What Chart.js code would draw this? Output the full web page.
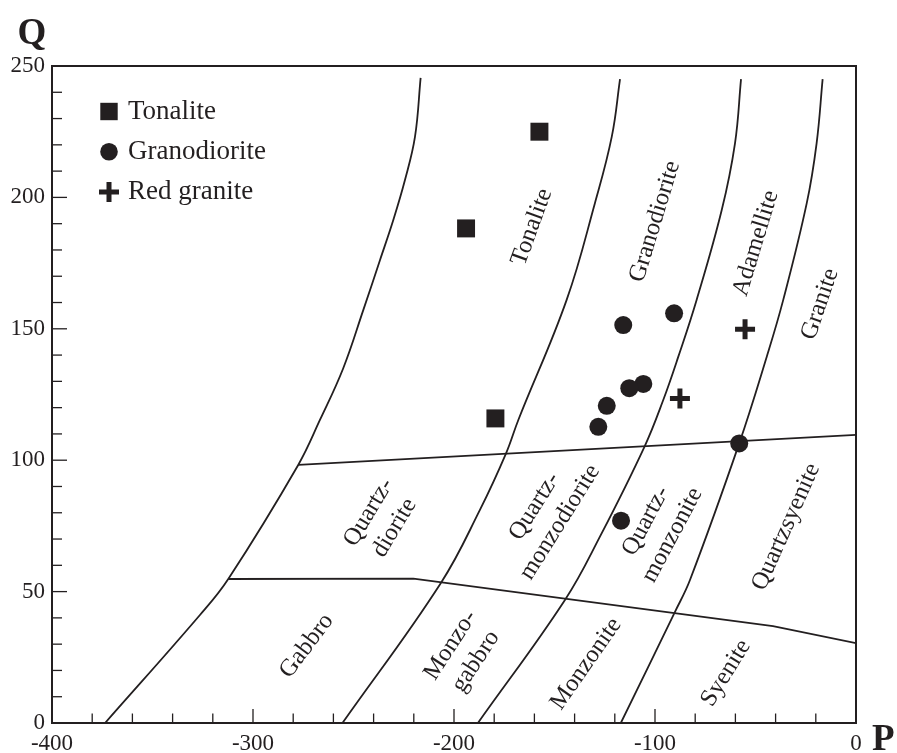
<!DOCTYPE html>
<html>
<head>
<meta charset="utf-8">
<script src="https://cdn.jsdelivr.net/npm/chart.js@4/dist/chart.umd.min.js"></script>
<style>
  body { margin: 0; background: #fff; }
  #wrap { width: 897px; height: 753px; }
</style>
</head>
<body>
<div id="wrap"><canvas id="pq"></canvas></div>
<script>
// ====== Data (P, Q) ======

// boundary curves, left to right
const curve1 = [[-373.6, 0], [-326.4, 41.1], [-312.3, 54.8], [-277.5, 98.2], [-266.7, 115.3], [-255.1, 135.0],
  [-245.1, 157.2], [-236.8, 176.2], [-230.2, 191.4], [-224.4, 206.6], [-219.4, 223.1], [-216.6, 245.5]];
const curve2 = [[-255.5, 0], [-206.6, 53.2], [-187.1, 81.1], [-174.1, 102.6], [-168.0, 115.3], [-144.0, 160.9],
  [-129.9, 197.8], [-121.5, 223.1], [-117.4, 245.0]];
const curve3 = [[-188.1, 0], [-144.8, 46.8], [-127.4, 70.9], [-105.2, 105.2], [-95.9, 122.9], [-88.4, 139.4],
  [-79.3, 161.0], [-66.8, 195.2], [-60.2, 220.6], [-57.2, 245.0]];
const curve4 = [[-117.0, 0], [-90.0, 42.4], [-82.6, 54.4], [-58.1, 106.4], [-44.4, 139.4], [-36.2, 161.0],
  [-24.5, 197.8], [-19.6, 220.6], [-16.6, 245.0]];

// the two cross lines
const upperLine = [[-277.5, 98.2], [0, 109.6]];
const lowerLine = [[-312.3, 54.8], [-220.2, 54.9], [-41.3, 36.9], [0, 30.4]];

// samples
const tonaliteP = [-157.5, -194.0, -179.4];
const tonaliteQ = [225.0, 188.2, 115.9];
const granodioriteP = [-115.8, -90.5, -105.8, -112.8, -124.0, -128.2, -58.1, -116.9];
const granodioriteQ = [151.4, 155.9, 129.0, 127.4, 120.7, 112.7, 106.4, 77.0];
const redGraniteP = [-87.6, -55.2];
const redGraniteQ = [123.5, 149.8];

// axis ticks
const pTicks = [-400, -300, -200, -100, 0];
const qTicks = [0, 50, 100, 150, 200, 250];

// region names, anchored in data units
const regionLabels = [
  { text: ["Tonalite"], p: -161.2, q: 188.7, angle: -70 },
  { text: ["Granodiorite"], p: -100.0, q: 190.8, angle: -73 },
  { text: ["Adamellite"], p: -49.8, q: 182.5, angle: -73 },
  { text: ["Granite"], p: -17.9, q: 159.4, angle: -71 },
  { text: ["Quartz-", "diorite"], p: -236.0, q: 77.2, angle: -59 },
  { text: ["Quartz-", "monzodiorite"], p: -153.6, q: 79.4, angle: -58 },
  { text: ["Quartz-", "monzonite"], p: -97.9, q: 74.2, angle: -62 },
  { text: ["Quartzsyenite"], p: -34.8, q: 74.6, angle: -66 },
  { text: ["Gabbro"], p: -273.3, q: 29.3, angle: -53 },
  { text: ["Monzo-", "gabbro"], p: -195.4, q: 26.5, angle: -57 },
  { text: ["Monzonite"], p: -134.3, q: 22.5, angle: -55 },
  { text: ["Syenite"], p: -64.7, q: 19.0, angle: -58 },
];

const INK = "#231f20";
const SERIF = "'Liberation Serif', 'Times New Roman', serif";

const toXY = (pairs) => pairs.map(([x, y]) => ({ x, y }));
const zipXY = (xs, ys) => xs.map((x, i) => ({ x, y: ys[i] }));

function boundary(pairs, smooth) {
  return {
    label: "",
    data: toXY(pairs),
    showLine: true,
    borderColor: INK,
    borderWidth: 1.8,
    pointRadius: 0,
    pointHoverRadius: 0,
    tension: smooth ? 0.4 : 0,
  };
}

// ====== Plugins ======

// frame + inward ticks + axis letters
const frameAndTicks = {
  id: "frameAndTicks",
  afterDraw(chart) {
    const { ctx, chartArea: a, scales } = chart;
    ctx.save();
    ctx.strokeStyle = INK;
    ctx.lineWidth = 1.3;
    scales.y.ticks.forEach((t) => {
      const y = scales.y.getPixelForValue(t.value);
      const len = t.value % 50 === 0 ? 15 : 10;
      ctx.beginPath();
      ctx.moveTo(a.left, y);
      ctx.lineTo(a.left + len, y);
      ctx.stroke();
    });
    scales.x.ticks.forEach((t) => {
      const x = scales.x.getPixelForValue(t.value);
      const len = t.value % 100 === 0 ? 14 : 9.5;
      ctx.beginPath();
      ctx.moveTo(x, a.bottom);
      ctx.lineTo(x, a.bottom - len);
      ctx.stroke();
    });
    ctx.lineWidth = 2;
    ctx.strokeRect(a.left, a.top, a.right - a.left, a.bottom - a.top);

    ctx.fillStyle = INK;
    ctx.font = "bold 37px " + SERIF;
    ctx.textBaseline = "alphabetic";
    ctx.textAlign = "center";
    ctx.fillText("Q", a.left - 20, a.top - 22);
    ctx.textAlign = "left";
    ctx.fillText("P", a.right + 16, a.bottom + 27);
    ctx.restore();
  },
};

// rotated region names
const regionNames = {
  id: "regionNames",
  afterDatasetsDraw(chart) {
    const { ctx, scales } = chart;
    ctx.save();
    ctx.fillStyle = INK;
    ctx.font = "24.5px " + SERIF;
    ctx.textAlign = "center";
    ctx.textBaseline = "middle";
    regionLabels.forEach((r) => {
      const x = scales.x.getPixelForValue(r.p);
      const y = scales.y.getPixelForValue(r.q);
      ctx.save();
      ctx.translate(x, y);
      ctx.rotate((r.angle * Math.PI) / 180);
      const lh = 30;
      const y0 = -((r.text.length - 1) * lh) / 2;
      r.text.forEach((line, i) => ctx.fillText(line, 0, y0 + i * lh));
      ctx.restore();
    });
    ctx.restore();
  },
};

// legend in the upper-left corner
const cornerLegend = {
  id: "cornerLegend",
  afterDraw(chart) {
    const { ctx, chartArea: a } = chart;
    const items = chart.data.datasets.filter((d) => d.label);
    ctx.save();
    ctx.fillStyle = INK;
    ctx.strokeStyle = INK;
    ctx.font = "27px " + SERIF;
    ctx.textBaseline = "middle";
    ctx.textAlign = "left";
    items.forEach((d, i) => {
      const cx = a.left + 57;
      const cy = a.top + 45.5 + i * 40.3;
      if (d.pointStyle === "rect") {
        ctx.fillRect(cx - 8.7, cy - 8.7, 17.4, 17.4);
      } else if (d.pointStyle === "circle") {
        ctx.beginPath();
        ctx.arc(cx, cy, 8.8, 0, Math.PI * 2);
        ctx.fill();
      } else {
        ctx.lineWidth = 5;
        ctx.beginPath();
        ctx.moveTo(cx - 10, cy);
        ctx.lineTo(cx + 10, cy);
        ctx.moveTo(cx, cy - 10);
        ctx.lineTo(cx, cy + 10);
        ctx.stroke();
      }
      ctx.fillText(d.label, a.left + 76, cy);
    });
    ctx.restore();
  },
};

// ====== Chart ======

Chart.defaults.font.family = SERIF;
Chart.defaults.color = INK;

new Chart(document.getElementById("pq"), {
  type: "scatter",
  data: {
    datasets: [
      boundary(curve1, true),
      boundary(curve2, true),
      boundary(curve3, true),
      boundary(curve4, true),
      boundary(upperLine, false),
      boundary(lowerLine, false),
      {
        label: "Tonalite",
        data: zipXY(tonaliteP, tonaliteQ),
        pointStyle: "rect",
        pointRadius: 12.7,
        backgroundColor: INK,
        borderWidth: 0,
      },
      {
        label: "Granodiorite",
        data: zipXY(granodioriteP, granodioriteQ),
        pointStyle: "circle",
        pointRadius: 9,
        backgroundColor: INK,
        borderWidth: 0,
      },
      {
        label: "Red granite",
        data: zipXY(redGraniteP, redGraniteQ),
        pointStyle: "cross",
        pointRadius: 10,
        borderColor: INK,
        borderWidth: 5,
      },
    ],
  },
  options: {
    responsive: true,
    maintainAspectRatio: false,
    animation: false,
    layout: { padding: { top: 66, right: 41, left: 0, bottom: 0 } },
    plugins: { legend: { display: false }, tooltip: { enabled: false } },
    scales: {
      x: {
        type: "linear",
        min: -400,
        max: 0,
        grid: { display: false, drawTicks: false },
        border: { display: false },
        ticks: {
          stepSize: 20,
          autoSkip: false,
          maxRotation: 0,
          padding: 7,
          font: { size: 23 },
          callback: (v) => (pTicks.includes(v) ? String(v) : ""),
        },
        afterFit: (s) => { s.height = 30; },
      },
      y: {
        type: "linear",
        min: 0,
        max: 250,
        grid: { display: false, drawTicks: false },
        border: { display: false },
        ticks: {
          stepSize: 10,
          autoSkip: false,
          padding: 7,
          font: { size: 23 },
          callback: (v) => (qTicks.includes(v) ? String(v) : ""),
        },
        afterFit: (s) => { s.width = 52; },
      },
    },
  },
  plugins: [regionNames, frameAndTicks, cornerLegend],
});
</script>
</body>
</html>
